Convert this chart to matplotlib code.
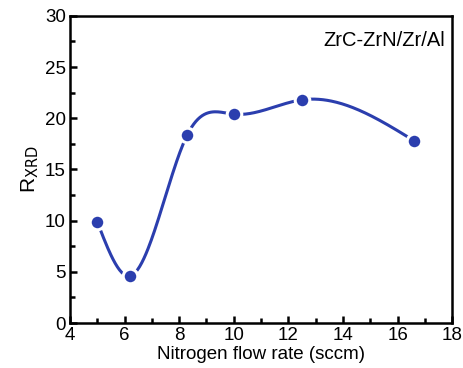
import numpy as np
import matplotlib
matplotlib.use("Agg")
import matplotlib.pyplot as plt
from matplotlib.ticker import MultipleLocator

plt.rcParams["font.family"] = ["Liberation Sans", "DejaVu Sans"]

flow_rate = [5.0, 6.2, 8.3, 10.0, 12.5, 16.6]
r_xrd = [9.9, 4.6, 18.4, 20.4, 21.8, 17.8]
sample_label = "ZrC-ZrN/Zr/Al"


def natural_spline(x, y, n=300):
    x = np.asarray(x, float)
    y = np.asarray(y, float)
    k = len(x)
    h = np.diff(x)
    A = np.zeros((k, k))
    b = np.zeros(k)
    A[0, 0] = A[-1, -1] = 1.0
    for i in range(1, k - 1):
        A[i, i - 1] = h[i - 1]
        A[i, i] = 2 * (h[i - 1] + h[i])
        A[i, i + 1] = h[i]
        b[i] = 3 * ((y[i + 1] - y[i]) / h[i] - (y[i] - y[i - 1]) / h[i - 1])
    c = np.linalg.solve(A, b)
    xs = np.linspace(x[0], x[-1], n)
    idx = np.clip(np.searchsorted(x, xs) - 1, 0, k - 2)
    dx = xs - x[idx]
    bb = (y[idx + 1] - y[idx]) / h[idx] - h[idx] * (2 * c[idx] + c[idx + 1]) / 3
    dd = (c[idx + 1] - c[idx]) / (3 * h[idx])
    ys = y[idx] + bb * dx + c[idx] * dx ** 2 + dd * dx ** 3
    return xs, ys


color = "#2b3eae"
fig = plt.figure(figsize=(4.63, 3.68), dpi=100)
ax = fig.add_axes([0.151, 0.122, 0.826, 0.835])

xs, ys = natural_spline(flow_rate, r_xrd)
ax.plot(xs, ys, color=color, lw=2.2, zorder=2)
ax.plot(flow_rate, r_xrd, "o", color=color, ms=10.5, mec="white", mew=2.2, zorder=3)

ax.set_xlim(4, 18)
ax.set_ylim(0, 30)
ax.xaxis.set_major_locator(MultipleLocator(2))
ax.xaxis.set_minor_locator(MultipleLocator(1))
ax.yaxis.set_major_locator(MultipleLocator(5))
ax.yaxis.set_minor_locator(MultipleLocator(2.5))
ax.tick_params(which="both", direction="in", width=1.8, labelsize=13.5, colors="black")
ax.tick_params(which="major", length=5, pad=3)
ax.tick_params(which="minor", length=3.5)
for s in ax.spines.values():
    s.set_linewidth(1.8)

ax.set_xlabel("Nitrogen flow rate (sccm)", fontsize=13.5, labelpad=1)
ax.set_ylabel(r"R$_{\mathrm{XRD}}$", fontsize=15, labelpad=3)
ax.text(0.98, 0.95, sample_label, transform=ax.transAxes, ha="right", va="top", fontsize=14.5)

fig.savefig("out.png", dpi=100)
